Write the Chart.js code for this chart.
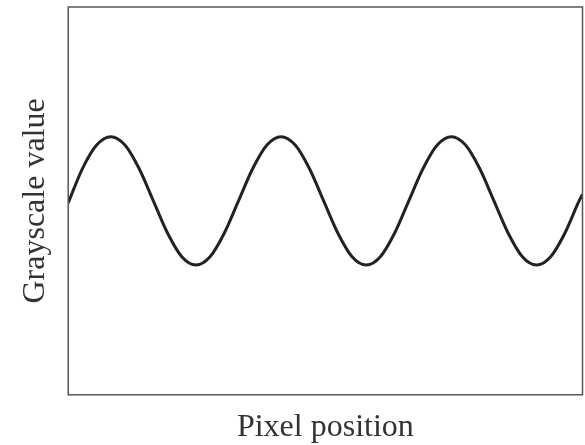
<!DOCTYPE html>
<html>
<head>
<meta charset="utf-8">
<script src="https://cdn.jsdelivr.net/npm/chart.js@4/dist/chart.umd.min.js"></script>
<style>
  html, body { margin: 0; padding: 0; background: #fff; }
  #wrap { width: 585px; height: 445px; }
</style>
</head>
<body>
<div id="wrap"><canvas id="c"></canvas></div>
<script>
// pixel position, in cycles of the wave (read every 1/12 cycle)
const positions = [
    0, 0.083, 0.167, 0.25, 0.333, 0.417, 0.5, 0.583, 0.667, 0.75, 0.833, 0.917,
    1, 1.083, 1.167, 1.25, 1.333, 1.417, 1.5, 1.583, 1.667, 1.75, 1.833, 1.917,
    2, 2.083, 2.167, 2.25, 2.333, 2.417, 2.5, 2.583, 2.667, 2.75, 2.833, 2.917,
    3, 3.02
];
// grayscale value relative to the mean level
const grayValues = [
    -0.03, 0.5, 0.87, 1, 0.87, 0.5, 0, -0.5, -0.87, -1, -0.87, -0.5,
    0, 0.5, 0.87, 1, 0.87, 0.5, 0, -0.5, -0.87, -1, -0.87, -0.5,
    0, 0.5, 0.87, 1, 0.87, 0.5, 0, -0.5, -0.87, -1, -0.87, -0.5,
    0, 0.1
];
const xTitle = "Pixel position";
const yTitle = "Grayscale value";

const frame = {
    id: 'frame',
    afterDraw(chart) {
        const a = chart.chartArea;
        const ctx = chart.ctx;
        ctx.save();
        ctx.strokeStyle = '#555';
        ctx.lineWidth = 1.5;
        ctx.strokeRect(a.left, a.top, a.right - a.left, a.bottom - a.top);
        ctx.restore();
    }
};

const titleFont = { family: '"Liberation Serif", "DejaVu Serif", serif', size: 32, lineHeight: 1 };

new Chart(document.getElementById('c'), {
    type: 'line',
    data: {
        datasets: [
            {
                data: positions.map((p, i) => ({ x: p, y: grayValues[i] })),
                borderColor: '#222',
                borderWidth: 3,
                pointRadius: 0,
                fill: false,
                cubicInterpolationMode: 'monotone'
            }
        ]
    },
    options: {
        responsive: true,
        maintainAspectRatio: false,
        animation: false,
        layout: { padding: { left: 15, right: 2.5, top: 7, bottom: 1.2 } },
        plugins: {
            legend: { display: false },
            tooltip: { enabled: false }
        },
        scales: {
            x: {
                type: 'linear',
                min: 0,
                max: 3.02,
                grid: { display: false },
                border: { display: false },
                ticks: { display: false },
                title: { display: true, text: xTitle, color: '#333', font: titleFont, padding: { top: 9, bottom: 0 } }
            },
            y: {
                min: -3.02,
                max: 3.02,
                grid: { display: false },
                border: { display: false },
                ticks: { display: false },
                title: { display: true, text: yTitle, color: '#333', font: titleFont, padding: { top: 4.6, bottom: 8.6 } }
            }
        }
    },
    plugins: [frame]
});
</script>
</body>
</html>
